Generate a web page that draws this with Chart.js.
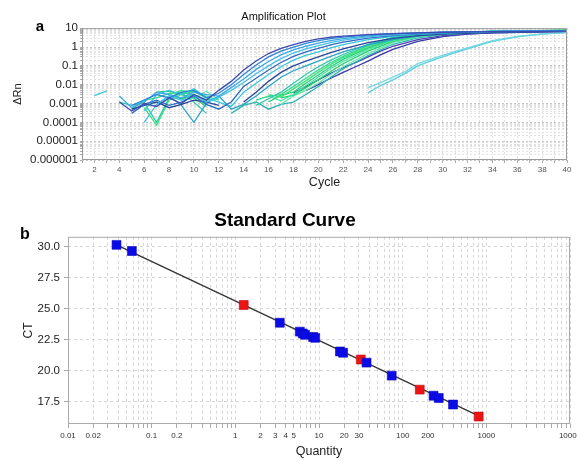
<!DOCTYPE html>
<html>
<head>
<meta charset="utf-8">
<script src="https://cdn.jsdelivr.net/npm/chart.js@4"></script>
<style>
  body { margin: 0; background: #fff; }
  #amp { position: absolute; left: 0; top: 0; }
  #std { position: absolute; left: 0; top: 200px; }
</style>
</head>
<body>
<canvas id="amp" width="577" height="200"></canvas>
<canvas id="std" width="577" height="261"></canvas>
<script>
// ---- panel a: amplification curves, [cycle, deltaRn], null = gap ----
const curve01 = [[4,0.0012],[5,0.0004],[6,0.001],[7,0.0007],[8,0.002],[9,0.001],[10,0.003],[11,0.0015],[12,0.005],[13,0.015],[14,0.06],[15,0.18],[16,0.45],[17,0.85],[18,1.35],[19,2.0],[20,2.7],[21,3.3],[22,3.8],[24,4.6],[26,5.2],[28,5.7],[30,6.1],[34,6.6],[40,7.0]];
const curve02 = [[5,0.0008],[6,0.0015],[7,0.003],[8,0.002],[9,0.004],[10,0.005],[11,0.002],[12,0.0035],[13,0.01],[14,0.035],[15,0.11],[16,0.3],[17,0.6],[18,1.0],[19,1.55],[20,2.2],[21,2.8],[22,3.4],[24,4.4],[26,5.1],[28,5.7],[30,6.2],[34,6.8],[40,7.2]];
const curve03 = [[4,0.0025],[5,0.0006],[6,0.0012],[7,0.004],[8,0.003],[9,0.002],[10,0.004],[11,0.003],[12,0.0025],[13,0.007],[14,0.02],[15,0.065],[16,0.17],[17,0.38],[18,0.7],[19,1.1],[20,1.6],[21,2.2],[22,2.8],[24,3.9],[26,4.8],[28,5.5],[30,6.0],[34,6.8],[40,7.3]];
const curve04 = [[6,0.0001],[7,0.0009],[8,0.0025],[9,0.0015],[10,0.003],[11,0.0012],[12,0.0022],[13,0.005],[14,0.013],[15,0.038],[16,0.1],[17,0.24],[18,0.48],[19,0.8],[20,1.2],[21,1.7],[22,2.3],[24,3.5],[26,4.5],[28,5.3],[30,5.9],[34,6.8],[40,7.3]];
const curve05 = [[5,0.0003],[6,0.0009],[7,0.0015],[8,0.0008],[9,0.0012],[10,0.0025],[11,0.0009],[12,0.0005],[13,0.0012],[14,0.008],[15,0.022],[16,0.06],[17,0.15],[18,0.32],[19,0.55],[20,0.85],[21,1.3],[22,1.8],[24,3.0],[26,4.1],[28,5.0],[30,5.7],[34,6.5],[40,7.0]];
const curve06 = [[2,0.0026],[3,0.0047],[3.5,null],[6,0.0004],[7,0.003],[8,0.005],[9,0.003],[10,0.006],[11,0.002],[12,0.0012],[13,0.0007],[14,0.004],[15,0.012],[16,0.035],[17,0.09],[18,0.2],[19,0.36],[20,0.55],[21,0.9],[22,1.35],[24,2.5],[26,3.7],[28,4.7],[30,5.5],[34,6.6],[40,7.2]];
const curve07 = [[5,0.0005],[6,0.0008],[7,0.0012],[8,0.0006],[9,0.0009],[10,0.0015],[11,0.0012],[12,0.0008],[12.5,null],[14,0.0012],[15,0.004],[16,0.015],[17,0.045],[18,0.1],[19,0.18],[20,0.3],[21,0.5],[22,0.8],[24,1.7],[26,2.9],[28,4.0],[30,4.9],[34,6.0],[40,6.8]];
const curve08 = [[7,0.0009],[8,0.0025],[9,0.0008],[10,0.0001],[11,0.001],[12,0.0025],[13,0.0005],[14,0.0009],[15,0.0025],[16,0.008],[17,0.025],[18,0.055],[19,0.1],[20,0.18],[21,0.32],[22,0.55],[24,1.3],[26,2.5],[28,3.8],[30,4.8],[34,6.3],[40,7.0]];
const curve09 = [[4,0.0012],[5,0.0008],[6,0.0011],[7,0.0001],[8,0.002],[9,0.0035],[10,0.0012],[11,0.0003],[11.5,null],[15,0.0008],[16,0.0018],[17,0.004],[18,0.012],[19,0.035],[20,0.09],[21,0.2],[22,0.4],[24,1.4],[26,3.3],[28,4.8],[30,5.6],[34,6.6],[40,7.3]];
const curve10 = [[5,0.0005],[6,0.0015],[7,0.002],[8,0.0035],[9,0.004],[10,0.003],[11,0.0015],[12,0.002],[12.5,null],[15,0.0015],[16,0.0025],[17,0.003],[18,0.008],[19,0.022],[20,0.06],[21,0.15],[22,0.32],[24,1.2],[26,3.0],[28,4.6],[30,5.5],[34,6.7],[40,7.5]];
const curve11 = [[6,0.0006],[7,0.00007],[8,0.0015],[9,0.003],[10,0.0045],[11,0.002],[11.5,null],[16,0.003],[17,0.0022],[18,0.006],[19,0.016],[20,0.045],[21,0.12],[22,0.27],[24,1.0],[26,2.7],[28,4.4],[30,5.4],[34,6.8],[40,7.6]];
const curve12 = [[7,0.004],[8,0.0045],[9,0.003],[10,0.002],[11,0.0007],[11.5,null],[16,0.0012],[17,0.0028],[18,0.004],[19,0.012],[20,0.033],[21,0.09],[22,0.22],[24,0.9],[26,2.5],[28,4.2],[30,5.3],[34,6.8],[40,7.7]];
const curve13 = [[8,0.003],[9,0.005],[10,0.004],[11,0.0025],[12,0.0015],[12.5,null],[16,0.0025],[17,0.0014],[18,0.003],[19,0.009],[20,0.025],[21,0.07],[22,0.17],[24,0.75],[26,2.2],[28,4.0],[30,5.2],[34,6.8],[40,7.8]];
const curve14 = [[8,0.0025],[9,0.0018],[10,0.003],[11,0.0012],[11.5,null],[17,0.002],[18,0.0028],[19,0.007],[20,0.018],[21,0.05],[22,0.13],[24,0.6],[26,2.0],[28,3.8],[30,5.1],[34,6.7],[40,7.9]];
const curve15 = [[9,0.0015],[10,0.002],[11,0.0045],[12,0.0016],[12.5,null],[17,0.0009],[18,0.0025],[19,0.005],[20,0.012],[21,0.035],[22,0.09],[24,0.45],[26,1.7],[28,3.5],[30,4.9],[34,6.6],[40,7.8]];
const curve16 = [[13,0.0003],[14,0.0008],[15,0.0012],[16,0.0005],[17,0.0009],[18,0.0012],[19,0.003],[20,0.008],[21,0.025],[22,0.07],[24,0.35],[26,1.4],[28,3.1],[30,4.6],[34,6.4],[40,7.6]];
const curve17 = [[18,0.0037],[19,0.008],[20,0.018],[21,0.04],[22,0.08],[23,0.15],[24,0.3],[25,0.6],[26,1.1],[28,2.5],[30,4.0],[32,5.0],[34,5.7],[40,6.8]];
const curve18 = [[19,0.0048],[20,0.01],[21,0.022],[22,0.045],[23,0.09],[24,0.18],[25,0.38],[26,0.75],[28,2.0],[30,3.6],[32,4.8],[34,5.6],[40,6.8]];
const curve19 = [[24,0.007],[25,0.013],[26,0.025],[27,0.05],[28,0.13],[29,0.22],[30,0.36],[31,0.58],[32,0.9],[34,2.2],[36,3.7],[38,5.0],[40,6.0]];
const curve20 = [[24,0.0037],[25,0.009],[26,0.018],[27,0.04],[28,0.1],[29,0.18],[30,0.3],[31,0.5],[32,0.8],[34,2.0],[36,3.5],[38,4.8],[40,5.8]];

const curves = [curve01, curve02, curve03, curve04, curve05, curve06, curve07, curve08, curve09, curve10,
                curve11, curve12, curve13, curve14, curve15, curve16, curve17, curve18, curve19, curve20];
const curveColors = ['#3d4ab0', '#2f86d6', '#3aa8e6', '#45c0e8', '#2f6cc4', '#38c6dc', '#24479a', '#2aa4c4', '#2ec9a6', '#2ed88c',
                     '#3ae07a', '#22cf78', '#48e4a2', '#1ecf6c', '#66e6b4', '#2fb4b0', '#4b3eb2', '#3a3aa6', '#72d9e2', '#5ccfdc'];

// ---- panel b: standard curve ----
const blueQty = [0.038, 0.058, 3.4, 5.9, 6.4, 6.8, 8.5, 9.0, 17.8, 19.4, 37, 74, 234, 270, 400];
const blueCt  = [30.15, 29.65, 23.87, 23.15, 23.0, 22.9, 22.72, 22.65, 21.55, 21.45, 20.65, 19.6, 17.98, 17.8, 17.27];
const redQty  = [1.26, 31.6, 160, 810];
const redCt   = [25.3, 20.9, 18.47, 16.3];
const fitQty  = [0.038, 810];
const fitCt   = [30.15, 16.35];
const ctTicks = [17.5, 20.0, 22.5, 25.0, 27.5, 30.0];
const qtyLabels = [0.01, 0.02, 0.1, 0.2, 1, 2, 3, 4, 5, 10, 20, 30, 100, 200, 1000, 10000];

const FONT = "'Liberation Sans', Arial, sans-serif";

function logTicks(fromExp, toExp) {
    const t = [];
    for (let e = fromExp; e < toExp; e++) {
        for (let m = 1; m < 10; m++) t.push({ value: Number((m * Math.pow(10, e)).toPrecision(3)) });
    }
    t.push({ value: Math.pow(10, toExp) });
    return t;
}
function isDecade(v) {
    const l = Math.log10(v);
    return Math.abs(l - Math.round(l)) < 1e-9;
}

function framePlugin(letter, lx, ly, size, color) {
    return {
        id: 'frame' + letter,
        afterDraw(chart) {
            const { ctx, chartArea: a } = chart;
            ctx.save();
            ctx.strokeStyle = color;
            ctx.lineWidth = 1;
            ctx.strokeRect(a.left + 0.5, a.top + 0.5, a.right - a.left - 1, a.bottom - a.top - 1);
            ctx.fillStyle = '#000';
            ctx.font = 'bold ' + size + 'px ' + FONT;
            ctx.textAlign = 'center';
            ctx.textBaseline = 'middle';
            ctx.fillText(letter, lx, ly);
            ctx.restore();
        }
    };
}

new Chart(document.getElementById('amp'), {
    type: 'line',
    data: {
        datasets: curves.map((c, i) => ({
            data: c.map(p => ({ x: p[0], y: p[1] })),
            borderColor: curveColors[i],
            borderWidth: 1.3,
            pointRadius: 0,
            tension: 0,
            spanGaps: false
        }))
    },
    options: {
        responsive: false,
        animation: false,
        layout: { padding: { left: 0, right: 10, top: 0, bottom: 0 } },
        plugins: {
            legend: { display: false },
            tooltip: { enabled: false },
            title: {
                display: true,
                text: 'Amplification Plot',
                color: '#111',
                font: { family: FONT, size: 11, weight: 'normal' },
                padding: { top: 10, bottom: 5 }
            }
        },
        scales: {
            x: {
                type: 'linear',
                min: 1,
                max: 40,
                afterFit: s => { s.height = 40; },
                ticks: {
                    stepSize: 1,
                    autoSkip: false,
                    maxRotation: 0,
                    padding: 2,
                    color: '#555',
                    font: { family: FONT, size: 8 },
                    callback: v => (v % 2 === 0 ? String(v) : '')
                },
                grid: { color: '#dcdcdc', tickLength: 3, tickColor: '#aaa' },
                border: { display: false, dash: [2, 2] },
                title: {
                    display: true,
                    text: 'Cycle',
                    color: '#222',
                    font: { family: FONT, size: 12.5 },
                    padding: { top: 0, bottom: 10 }
                }
            },
            y: {
                type: 'logarithmic',
                min: 0.000001,
                max: 10,
                afterFit: s => { s.width = 82; },
                afterBuildTicks: s => { s.ticks = logTicks(-6, 1); },
                ticks: {
                    autoSkip: false,
                    padding: 2,
                    color: '#222',
                    font: { family: FONT, size: 11.5 },
                    callback: v => (isDecade(v) ? String(v) : '')
                },
                grid: {
                    color: c => (c.tick && isDecade(c.tick.value) ? '#c8c8c8' : '#e2e2e2'),
                    tickLength: 2,
                    tickColor: '#aaa'
                },
                border: { display: false, dash: [2, 2] },
                title: {
                    display: true,
                    text: 'ΔRn',
                    color: '#222',
                    font: { family: FONT, size: 11 },
                    padding: { top: 11, bottom: 0 }
                }
            }
        }
    },
    plugins: [framePlugin('a', 40, 27, 15, '#9a9a9a')]
});

new Chart(document.getElementById('std'), {
    type: 'scatter',
    data: {
        datasets: [
            {
                data: blueQty.map((q, i) => ({ x: q, y: blueCt[i] })),
                pointStyle: 'rect',
                pointRadius: 6.3,
                backgroundColor: '#0b0be8',
                borderColor: '#0808c0',
                borderWidth: 0.6,
                order: 1
            },
            {
                data: redQty.map((q, i) => ({ x: q, y: redCt[i] })),
                pointStyle: 'rect',
                pointRadius: 6.3,
                backgroundColor: '#ec1414',
                borderColor: '#c00c0c',
                borderWidth: 0.6,
                order: 1
            },
            {
                type: 'line',
                data: fitQty.map((q, i) => ({ x: q, y: fitCt[i] })),
                borderColor: '#333',
                borderWidth: 1.3,
                pointRadius: 0,
                order: 2
            }
        ]
    },
    options: {
        responsive: false,
        animation: false,
        layout: { padding: { left: 0, right: 7, top: 0, bottom: 0 } },
        plugins: {
            legend: { display: false },
            tooltip: { enabled: false },
            title: {
                display: true,
                text: 'Standard Curve',
                color: '#000',
                font: { family: FONT, size: 19, weight: 'bold' },
                padding: { top: 9, bottom: 5 }
            }
        },
        scales: {
            x: {
                type: 'logarithmic',
                min: 0.01,
                max: 10000,
                afterFit: s => { s.height = 37; s.paddingRight = 0; },
                afterBuildTicks: s => { s.ticks = logTicks(-2, 4); },
                ticks: {
                    autoSkip: false,
                    maxRotation: 0,
                    padding: 3,
                    color: '#333',
                    font: { family: FONT, size: 8 },
                    callback: v => (qtyLabels.some(q => Math.abs(q - v) < v * 1e-6) ? String(v) : '')
                },
                grid: { color: '#d6d6d6', tickLength: 4, tickColor: '#aaa' },
                border: { display: false, dash: [3, 3] },
                title: {
                    display: true,
                    text: 'Quantity',
                    color: '#222',
                    font: { family: FONT, size: 12.5 },
                    padding: { top: 0, bottom: 2 }
                }
            },
            y: {
                type: 'linear',
                min: 15.7,
                max: 30.8,
                afterFit: s => { s.width = 68; },
                afterBuildTicks: s => { s.ticks = ctTicks.map(v => ({ value: v })); },
                ticks: {
                    padding: 4,
                    color: '#222',
                    font: { family: FONT, size: 11.5 },
                    callback: v => v.toFixed(1)
                },
                grid: { color: '#d6d6d6', tickLength: 4, tickColor: '#aaa' },
                border: { display: false, dash: [3, 3] },
                title: {
                    display: true,
                    text: 'CT',
                    color: '#222',
                    font: { family: FONT, size: 12 },
                    padding: { top: 21, bottom: 0 }
                }
            }
        }
    },
    plugins: [framePlugin('b', 25, 35, 16, '#aaaaaa')]
});
</script>
</body>
</html>
